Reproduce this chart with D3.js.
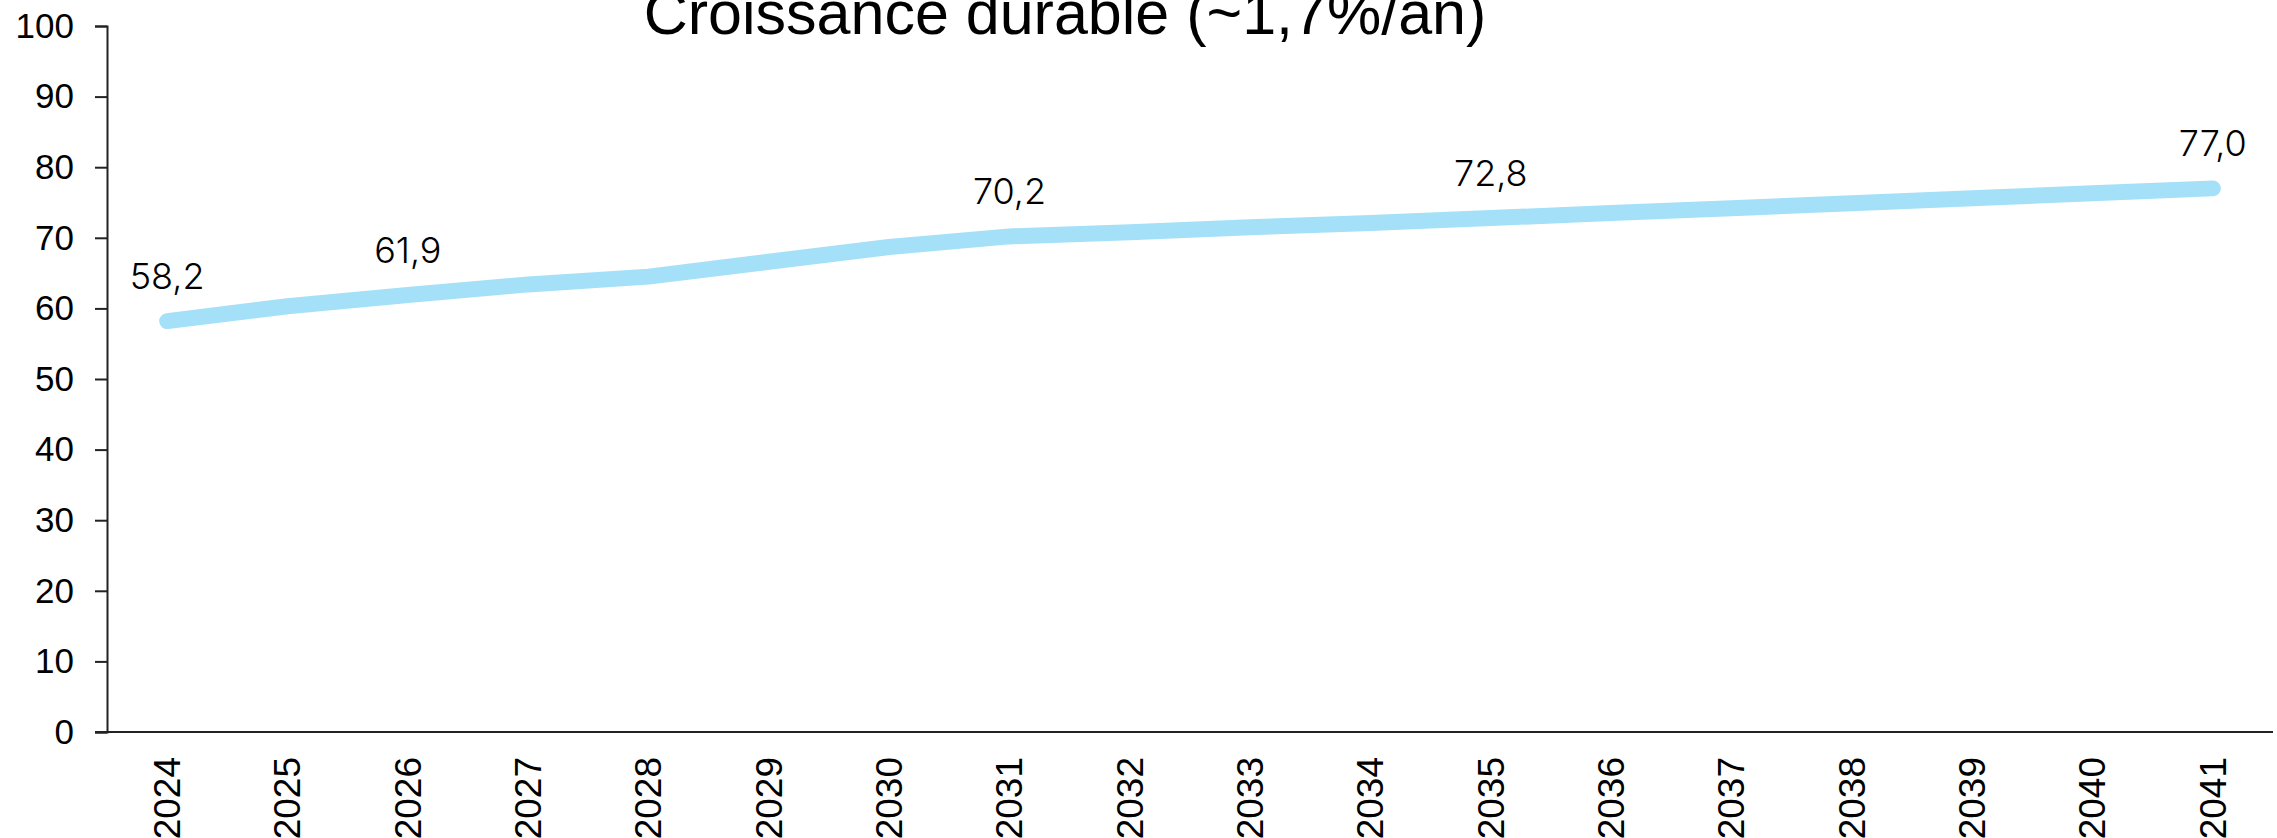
<!DOCTYPE html>
<html>
<head>
<meta charset="utf-8">
<script src="https://cdn.jsdelivr.net/npm/d3@7"></script>
<style>
  body { margin: 0; background: #fff; }
  svg { display: block; }
  .axis path, .axis line { stroke: #222; stroke-width: 2; }
  .axis text { font-family: "Liberation Sans", Arial, sans-serif; fill: #000; }
</style>
</head>
<body>
<script>
var years = ["2024", "2025", "2026", "2027", "2028", "2029", "2030", "2031", "2032",
             "2033", "2034", "2035", "2036", "2037", "2038", "2039", "2040", "2041"];
var values = [58.2, 60.3, 61.9, 63.4, 64.5, 66.6, 68.7, 70.2, 70.8,
              71.5, 72.1, 72.8, 73.5, 74.2, 74.9, 75.6, 76.3, 77.0];
var labelled = ["2024", "2026", "2031", "2035", "2041"];
var yTicks = [0, 10, 20, 30, 40, 50, 60, 70, 80, 90, 100];
var title = "Croissance durable (~1,7%/an)";

var width = 2277, height = 838;
var margin = {top: 26, right: 4, bottom: 106, left: 107};

var svg = d3.select("body").append("svg")
    .attr("width", width)
    .attr("height", height);

var x = d3.scaleBand()
    .domain(years)
    .range([margin.left, width - margin.right])
    .padding(0);

var y = d3.scaleLinear()
    .domain([0, 100])
    .range([height - margin.bottom, margin.top]);

// axe Y
var yAxis = svg.append("g")
    .attr("class", "axis")
    .attr("transform", "translate(" + margin.left + ",0)")
    .call(d3.axisLeft(y).tickValues(yTicks).tickSize(12).tickPadding(21));
yAxis.selectAll("text").style("font-size", "35px");

// axe X
var xAxis = svg.append("g")
    .attr("class", "axis")
    .attr("transform", "translate(0," + y(0) + ")")
    .call(d3.axisBottom(x).tickSize(0).tickSizeOuter(0).tickPadding(0));
xAxis.select(".domain").attr("d", "M" + (margin.left - 12) + ",0H" + (width - margin.right));
xAxis.selectAll("text")
    .style("font-size", "37px")
    .attr("text-anchor", "end")
    .attr("transform", "rotate(-90)")
    .attr("x", -25)
    .attr("y", 0)
    .attr("dy", "0.35em");

// courbe
var line = d3.line()
    .x((d, i) => x(years[i]) + x.bandwidth() / 2)
    .y(d => y(d));

svg.append("path")
    .datum(values)
    .attr("fill", "none")
    .attr("stroke", "#a4e0f8")
    .attr("stroke-width", 16)
    .attr("stroke-linecap", "round")
    .attr("stroke-linejoin", "round")
    .attr("d", line);

// étiquettes
svg.append("g")
    .selectAll("text")
    .data(years.map((yr, i) => ({yr: yr, v: values[i]})).filter(d => labelled.includes(d.yr)))
    .enter().append("text")
    .attr("x", d => x(d.yr) + x.bandwidth() / 2)
    .attr("y", d => y(d.v) - 32)
    .attr("text-anchor", "middle")
    .style("font-family", "Inter, sans-serif")
    .style("font-size", "36px")
    .style("font-weight", 300)
    .text(d => d3.format(".1f")(d.v).replace(".", ","));

// titre
svg.append("text")
    .attr("x", 1065)
    .attr("y", 34)
    .attr("text-anchor", "middle")
    .style("font-family", "'Liberation Sans', Arial, sans-serif")
    .style("font-size", "61px")
    .text(title);
</script>
</body>
</html>
